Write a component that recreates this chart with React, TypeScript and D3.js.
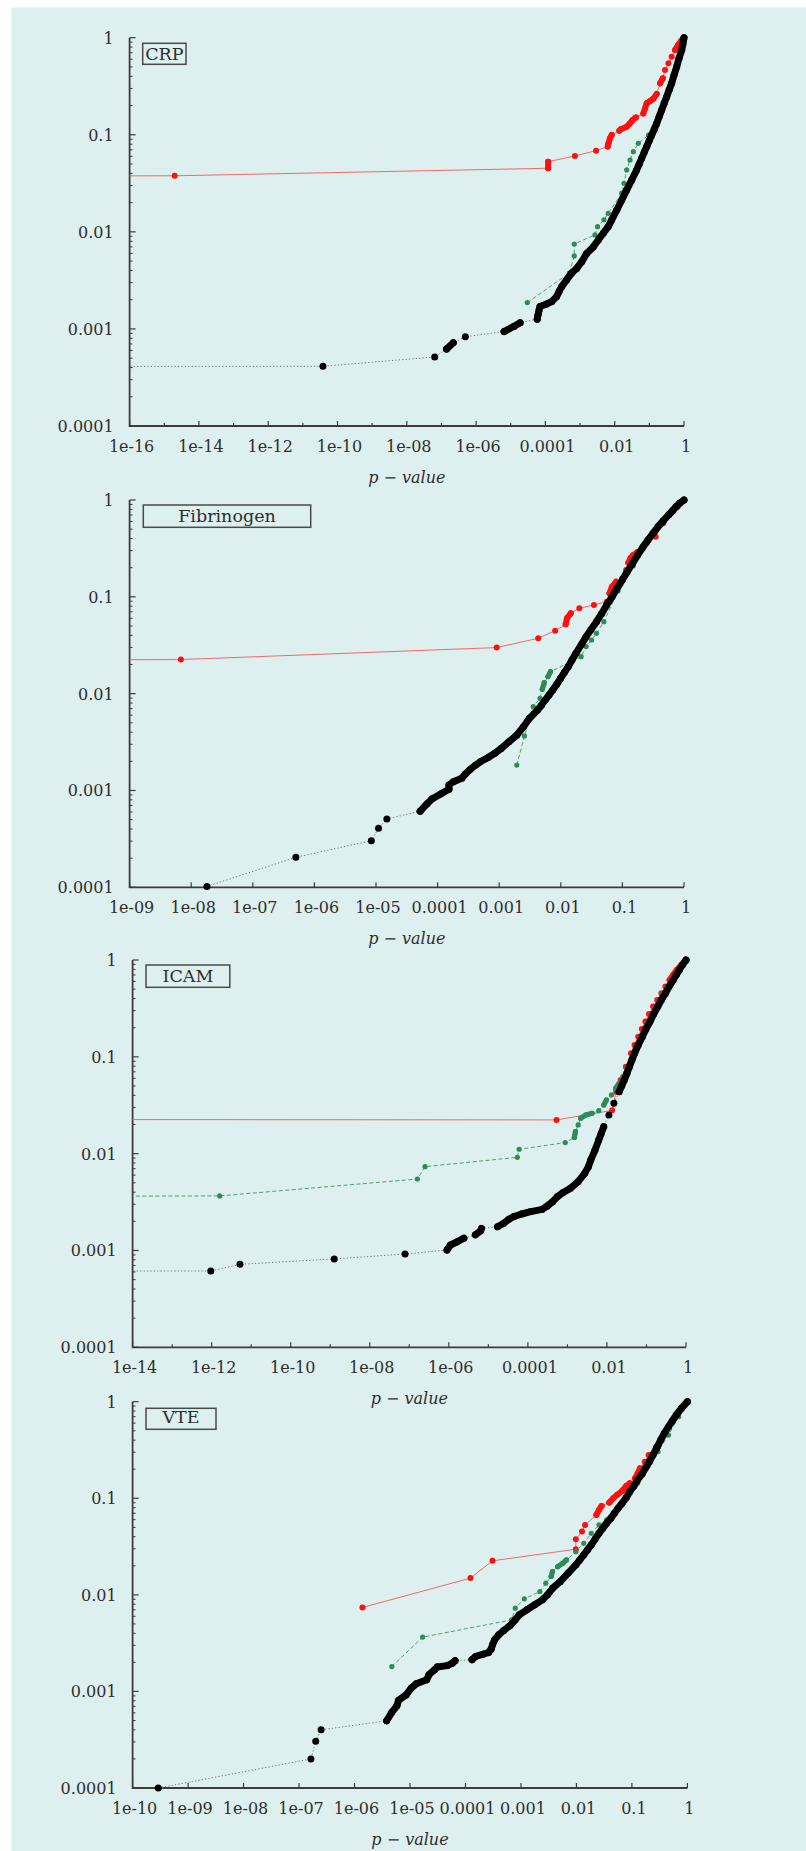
import React from "react";
import * as d3 from "d3";

type Pt = [number, number];

// ---------- CRP ----------
const crpRed: Pt[] = [
  [1e-22, 0.0375], [2e-15, 0.0378], [1.2e-4, 0.0452], [1.2e-4, 0.0528], [7.1e-4, 0.0605],
  [2.9e-3, 0.0686], [6.3e-3, 0.0755], [6.6e-3, 0.0817], [7.3e-3, 0.092], [8.2e-3, 0.0995],
  [0.0136, 0.11], [0.015, 0.114], [0.0222, 0.121], [0.0264, 0.129], [0.033, 0.142],
  [0.041, 0.151], [0.067, 0.166], [0.075, 0.187], [0.084, 0.211], [0.105, 0.223],
  [0.13, 0.235], [0.163, 0.263], [0.204, 0.339], [0.245, 0.382], [0.283, 0.465],
  [0.355, 0.545], [0.442, 0.637], [0.55, 0.747], [0.676, 0.841], [0.818, 0.925], [1, 1],
];
const crpGreen: Pt[] = [
  [3.0e-5, 1.87e-3], [4.9e-4, 3.75e-3], [6.8e-4, 5.65e-3], [6.8e-4, 7.5e-3], [2.7e-3, 9.3e-3],
  [3.2e-3, 0.0113], [4.9e-3, 0.0133], [6.5e-3, 0.0155], [0.016, 0.025], [0.0186, 0.0316],
  [0.0222, 0.0434], [0.0277, 0.055], [0.0345, 0.067], [0.048, 0.0817], [0.095, 0.0995],
  [0.163, 0.131], [0.317, 0.247], [0.616, 0.503], [1, 1],
];
const crpBlack: Pt[] = [
  [1e-20, 4.1e-4], [3.8e-11, 4.12e-4], [6.4e-8, 5.14e-4], [1.4e-7, 6.2e-4], [2.2e-7, 7.2e-4],
  [4.9e-7, 8.3e-4], [6.4e-6, 9.4e-4], [1.23e-5, 1.06e-3], [1.86e-5, 1.16e-3], [5.8e-5, 1.26e-3],
  [6.0e-5, 1.36e-3], [6.3e-5, 1.45e-3], [6.6e-5, 1.58e-3], [7.0e-5, 1.7e-3], [1.09e-4, 1.81e-3],
  [1.52e-4, 1.91e-3], [2.1e-4, 2.15e-3], [2.5e-4, 2.45e-3], [2.95e-4, 2.73e-3], [4.1e-4, 3.2e-3],
  [5.7e-4, 3.75e-3], [8.0e-4, 4.2e-3], [1.12e-3, 4.93e-3], [1.55e-3, 6.0e-3], [2.4e-3, 7.0e-3],
  [3.4e-3, 8.3e-3], [4.7e-3, 9.7e-3], [6.5e-3, 0.0113], [8.2e-3, 0.0133], [0.0115, 0.0168],
  [0.016, 0.0213], [0.0222, 0.027], [0.031, 0.0343], [0.043, 0.0434], [0.051, 0.05],
  [0.06, 0.0573], [0.071, 0.066], [0.084, 0.0755], [0.099, 0.087], [0.117, 0.0995],
  [0.138, 0.114], [0.163, 0.131], [0.193, 0.154], [0.227, 0.18], [0.268, 0.211],
  [0.317, 0.247], [0.372, 0.289], [0.44, 0.339], [0.517, 0.413], [0.616, 0.503],
  [0.72, 0.614], [0.86, 0.747], [0.93, 0.86], [1, 1],
];

// ---------- Fibrinogen ----------
const fibRed: Pt[] = [
  [1e-12, 0.0222], [6.8e-9, 0.0225], [9.1e-4, 0.0299], [4.3e-3, 0.0373], [8.1e-3, 0.0447],
  [0.012, 0.052], [0.0126, 0.06], [0.0145, 0.0676], [0.02, 0.076], [0.0345, 0.0824],
  [0.0556, 0.089], [0.0617, 0.1087], [0.0676, 0.127], [0.079, 0.1435], [0.1, 0.155],
  [0.115, 0.189], [0.125, 0.225], [0.135, 0.25], [0.15, 0.27], [0.175, 0.29], [0.25, 0.36],
  [0.347, 0.418], [0.46, 0.574], [0.617, 0.728], [0.79, 0.853], [1, 1],
];
const fibGreen: Pt[] = [
  [1.93e-3, 1.83e-3], [2.57e-3, 3.66e-3], [3.57e-3, 7.34e-3], [4.6e-3, 8.95e-3], [5.0e-3, 0.0111],
  [5.4e-3, 0.013], [6.2e-3, 0.015], [6.8e-3, 0.0169], [0.0214, 0.0241], [0.0258, 0.0306],
  [0.0316, 0.0358], [0.038, 0.042], [0.05, 0.0554], [0.085, 0.115], [0.15, 0.21],
  [0.3, 0.42], [0.55, 0.68], [1, 1],
];
const fibBlack: Pt[] = [
  [1.8e-8, 1.02e-4], [5e-7, 2.04e-4], [8.4e-6, 3.03e-4], [1.1e-5, 4.07e-4], [1.5e-5, 5.08e-4],
  [5.2e-5, 6.1e-4], [6.7e-5, 7.26e-4], [8.1e-5, 8.17e-4], [1.12e-4, 9.2e-4], [1.53e-4, 1.03e-3],
  [1.53e-4, 1.14e-3], [1.8e-4, 1.23e-3], [2.47e-4, 1.34e-3], [2.8e-4, 1.47e-3], [3.4e-4, 1.66e-3],
  [4.15e-4, 1.83e-3], [5e-4, 1.99e-3], [6.7e-4, 2.2e-3], [8.5e-4, 2.42e-3], [1.08e-3, 2.72e-3],
  [1.44e-3, 3.19e-3], [1.94e-3, 3.74e-3], [2.48e-3, 4.56e-3], [3.1e-3, 5.56e-3], [4.2e-3, 6.78e-3],
  [4.85e-3, 7.6e-3], [5.6e-3, 8.6e-3], [6.45e-3, 9.7e-3], [7.4e-3, 0.0109], [8.6e-3, 0.0125],
  [9.9e-3, 0.0144], [0.0114, 0.0165], [0.0132, 0.019], [0.0152, 0.0223], [0.0176, 0.0261],
  [0.0215, 0.032], [0.0258, 0.0388], [0.031, 0.046], [0.038, 0.0554], [0.046, 0.067],
  [0.0557, 0.0824], [0.068, 0.1], [0.082, 0.1225], [0.1, 0.15], [0.12, 0.182], [0.145, 0.22],
  [0.177, 0.27], [0.214, 0.324], [0.26, 0.386], [0.314, 0.453], [0.38, 0.531], [0.462, 0.612],
  [0.56, 0.7], [0.653, 0.776], [0.746, 0.853], [0.85, 0.925], [1, 1],
];

// ---------- ICAM ----------
const icamRed: Pt[] = [
  [1e-20, 0.0226], [5.3e-4, 0.0223], [0.0135, 0.028], [0.0171, 0.0437], [0.0223, 0.0577],
  [0.0301, 0.079], [0.0406, 0.1087], [0.05, 0.1325], [0.0618, 0.161], [0.0762, 0.194],
  [0.094, 0.231], [0.116, 0.277], [0.147, 0.33], [0.187, 0.386], [0.238, 0.453],
  [0.302, 0.531], [0.384, 0.621], [0.473, 0.7], [0.583, 0.789], [0.764, 0.888], [1, 1],
];
const icamGreen: Pt[] = [
  [1e-20, 3.6e-3], [1.6e-12, 3.66e-3], [1.6e-7, 5.47e-3], [2.5e-7, 7.34e-3], [5.4e-5, 9.16e-3],
  [6.0e-5, 0.0111], [8.8e-4, 0.013], [1.5e-3, 0.0147], [1.6e-3, 0.0169], [1.87e-3, 0.0198],
  [2.16e-3, 0.0232], [2.9e-3, 0.025], [4.2e-3, 0.0261], [6.2e-3, 0.0278], [8.3e-3, 0.0318],
  [9.7e-3, 0.0358], [0.013, 0.0404], [0.0166, 0.0473], [0.0204, 0.0535], [0.0251, 0.0624],
  [0.032, 0.0762], [0.0407, 0.0927], [0.058, 0.127], [0.106, 0.213], [0.26, 0.453],
  [0.637, 0.789], [1, 1],
];
const icamBlack: Pt[] = [
  [1e-20, 6.1e-4], [9.5e-13, 6.14e-4], [5.2e-12, 7.2e-4], [1.26e-9, 8.17e-4], [7.8e-8, 9.2e-4],
  [9.0e-7, 1.01e-3], [1.1e-6, 1.14e-3], [1.64e-6, 1.23e-3], [2.4e-6, 1.34e-3], [4.7e-6, 1.45e-3],
  [6.3e-6, 1.59e-3], [6.7e-6, 1.69e-3], [1.7e-5, 1.76e-3], [2.4e-5, 1.9e-3], [3.3e-5, 2.1e-3],
  [4.4e-5, 2.24e-3], [6.9e-5, 2.38e-3], [1.19e-4, 2.52e-3], [2.3e-4, 2.66e-3], [3.1e-4, 2.88e-3],
  [4.2e-4, 3.19e-3], [5.6e-4, 3.6e-3], [7.6e-4, 3.95e-3], [1.19e-3, 4.38e-3], [1.86e-3, 5.14e-3],
  [2.75e-3, 6.26e-3], [3.4e-3, 7.34e-3], [3.9e-3, 8.6e-3], [5.0e-3, 0.0109], [6.2e-3, 0.0138],
  [7.2e-3, 0.0162], [8.3e-3, 0.019], [0.0112, 0.025], [0.015, 0.0331], [0.0204, 0.0437],
  [0.0237, 0.0503], [0.0275, 0.0577], [0.032, 0.0675], [0.037, 0.079], [0.043, 0.093],
  [0.05, 0.1087], [0.0618, 0.1325], [0.0785, 0.161], [0.0968, 0.194], [0.123, 0.231],
  [0.152, 0.277], [0.193, 0.33], [0.238, 0.386], [0.302, 0.453], [0.372, 0.531],
  [0.473, 0.621], [0.566, 0.7], [0.676, 0.789], [0.81, 0.888], [1, 1],
];

// ---------- VTE ----------
const vteRed: Pt[] = [
  [1.39e-6, 7.4e-3], [1.23e-4, 0.0149], [3.07e-4, 0.0225], [9.75e-3, 0.0297], [9.75e-3, 0.0377],
  [0.0126, 0.0452], [0.0143, 0.053], [0.0229, 0.0673], [0.0255, 0.0757], [0.0284, 0.0833],
  [0.039, 0.0902], [0.046, 0.1], [0.0537, 0.108], [0.0665, 0.119], [0.0789, 0.134],
  [0.0912, 0.143], [0.1135, 0.161], [0.126, 0.179], [0.14, 0.204], [0.17, 0.239],
  [0.2, 0.281], [0.27, 0.337], [0.33, 0.401], [0.39, 0.47], [0.5, 0.597], [0.62, 0.72],
  [0.78, 0.85], [1, 1],
];
const vteGreen: Pt[] = [
  [4.7e-6, 1.81e-3], [1.69e-5, 3.65e-3], [6.8e-4, 5.51e-3], [7.9e-4, 7.28e-3], [1.15e-3, 9.1e-3],
  [2.19e-3, 0.0108], [2.8e-3, 0.0132], [3.5e-3, 0.0155], [3.7e-3, 0.0174], [4.6e-3, 0.0196],
  [5.7e-3, 0.0213], [6.6e-3, 0.023], [9.75e-3, 0.028], [0.0135, 0.0342], [0.0185, 0.0434],
  [0.0255, 0.053], [0.035, 0.0597], [0.0537, 0.0757], [0.0822, 0.104], [0.126, 0.143],
  [0.194, 0.213], [0.295, 0.304], [0.457, 0.452], [0.697, 0.7], [1, 1],
];
const vteBlack: Pt[] = [
  [2.9e-10, 1.0e-4], [1.64e-7, 2.0e-4], [2.0e-7, 3.04e-4], [2.5e-7, 4.0e-4], [3.8e-6, 4.97e-4],
  [4.7e-6, 6.07e-4], [5.8e-6, 7.1e-4], [6.2e-6, 8.07e-4], [8.5e-6, 9.2e-4], [1.05e-5, 1.08e-3],
  [1.3e-5, 1.2e-3], [2.0e-5, 1.32e-3], [2.2e-5, 1.49e-3], [2.75e-5, 1.67e-3], [3.1e-5, 1.79e-3],
  [4.7e-5, 1.85e-3], [5.8e-5, 1.96e-3], [6.5e-5, 2.08e-3], [1.31e-4, 2.13e-3], [1.52e-4, 2.3e-3],
  [2.09e-4, 2.43e-3], [2.6e-4, 2.53e-3], [2.9e-4, 2.74e-3], [3.07e-4, 3.04e-3], [3.35e-4, 3.42e-3],
  [3.98e-4, 3.86e-3], [4.9e-4, 4.28e-3], [6.3e-4, 4.78e-3], [7.9e-4, 5.51e-3], [9.3e-4, 6.21e-3],
  [1.28e-3, 7.0e-3], [1.77e-3, 7.9e-3], [2.44e-3, 8.88e-3], [3.0e-3, 0.01], [3.7e-3, 0.0117],
  [5.1e-3, 0.0137], [7.1e-3, 0.0168], [9.75e-3, 0.0204], [0.0115, 0.023], [0.0135, 0.0259],
  [0.0158, 0.0292], [0.0185, 0.0329], [0.0217, 0.0378], [0.0255, 0.0434], [0.0299, 0.049],
  [0.035, 0.0551], [0.0417, 0.0621], [0.0483, 0.07], [0.0563, 0.0788], [0.0665, 0.0888],
  [0.0794, 0.102], [0.0912, 0.117], [0.1087, 0.134], [0.126, 0.155], [0.153, 0.179],
  [0.174, 0.204], [0.206, 0.239], [0.24, 0.281], [0.284, 0.337], [0.33, 0.401], [0.383, 0.47],
  [0.457, 0.551], [0.537, 0.636], [0.63, 0.728], [0.78, 0.853], [1, 1],
];

const panelNames = ["CRP", "Fibrinogen", "ICAM", "VTE"];
const xMinExps = [-16, -9, -14, -10];
const xLabelSteps = [2, 1, 2, 1];
const yTickExps = [0, -1, -2, -3, -4];
const axisTitle = "p − value";

const layout = [
  { top: 37.7, bottom: 426, left: 129.6, right: 684, box: [142.7, 43.3, 43.3, 21], tb: 60 },
  { top: 500, bottom: 887.3, left: 129.6, right: 684, box: [143.3, 505, 167.4, 22.3], tb: 521.7 },
  { top: 960, bottom: 1347.3, left: 132.6, right: 686, box: [146, 965, 83.8, 22.3], tb: 981.7 },
  { top: 1401.7, bottom: 1788, left: 132.6, right: 687.4, box: [146, 1408.3, 70, 21], tb: 1423.3 },
];
const seriesData: Pt[][][] = [
  [crpRed, crpGreen, crpBlack],
  [fibRed, fibGreen, fibBlack],
  [icamRed, icamGreen, icamBlack],
  [vteRed, vteGreen, vteBlack],
];
const styles = [
  { line: "#f06a6a", dash: "none", dot: "#ff1010", r: 3.0, thr: 7 },
  { line: "#4f9e72", dash: "4,2.5", dot: "#2e8b57", r: 2.6, thr: 7 },
  { line: "#707070", dash: "1.2,2.2", dot: "#000000", r: 3.5, thr: 12 },
];

const FONT = "'DejaVu Serif', serif";
const TXT = "#2e2e2e";
const AX = "#3c3c3c";

function fmtX(e: number): string {
  if (e === 0) return "1";
  if (e >= -4) return Math.pow(10, e).toFixed(-e);
  return "1e-" + String(-e).padStart(2, "0");
}
function fmtY(e: number): string {
  return e === 0 ? "1" : Math.pow(10, e).toFixed(-e);
}

function Panel({ i }: { i: number }) {
  const L = layout[i];
  const x = d3.scaleLog().domain([Math.pow(10, xMinExps[i]), 1]).range([L.left, L.right]);
  const y = d3.scaleLog().domain([1e-4, 1]).range([L.bottom, L.top]);
  const line = d3.line<Pt>().x((d) => x(d[0])).y((d) => y(d[1]));
  const clipId = "clip" + i;

  const xExps = d3.range(xMinExps[i], 1);
  const yMinor: number[] = [];
  for (let e = -4; e < 0; e++) for (let k = 2; k <= 9; k++) yMinor.push(k * Math.pow(10, e));

  const band = (data: Pt[], thr: number) => {
    let s = "";
    for (let k = 1; k < data.length; k++) {
      const x0 = x(data[k - 1][0]), y0 = y(data[k - 1][1]);
      const x1 = x(data[k][0]), y1 = y(data[k][1]);
      if (Math.hypot(x1 - x0, y1 - y0) < thr) s += `M${x0},${y0}L${x1},${y1}`;
    }
    return s;
  };

  const [bx, by, bw, bh] = L.box;
  return (
    <g>
      <defs>
        <clipPath id={clipId}>
          <rect x={L.left} y={L.top - 10} width={L.right - L.left + 8} height={L.bottom - L.top + 20} />
        </clipPath>
      </defs>
      <path
        d={`M${L.left},${L.top}V${L.bottom}H${L.right}`}
        fill="none"
        stroke={AX}
        strokeWidth={1.8}
      />
      {xExps.map((e) => {
        const xx = x(Math.pow(10, e));
        const labeled = (e - xMinExps[i]) % xLabelSteps[i] === 0;
        return (
          <g key={"xt" + e}>
            <line x1={xx} x2={xx} y1={L.bottom} y2={L.bottom - (labeled ? 5 : 3)} stroke={AX} strokeWidth={1.2} />
            {labeled && (
              <text x={xx + 2} y={L.bottom + 26} textAnchor="middle" fontFamily={FONT} fontSize={16} fill={TXT}>
                {fmtX(e)}
              </text>
            )}
          </g>
        );
      })}
      {yTickExps.map((e) => {
        const yy = y(Math.pow(10, e));
        return (
          <g key={"yt" + e}>
            <line x1={L.left} x2={L.left + 6} y1={yy} y2={yy} stroke={AX} strokeWidth={1.2} />
            <text x={L.left - 16} y={yy + 6} textAnchor="end" fontFamily={FONT} fontSize={16} fill={TXT}>
              {fmtY(e)}
            </text>
          </g>
        );
      })}
      {yMinor.map((v) => (
        <line key={"ym" + v} x1={L.left} x2={L.left + 3} y1={y(v)} y2={y(v)} stroke={AX} strokeWidth={1} />
      ))}
      <text
        x={(L.left + L.right) / 2}
        y={L.bottom + 57}
        textAnchor="middle"
        fontFamily={FONT}
        fontStyle="italic"
        fontSize={16}
        fill={TXT}
      >
        {axisTitle}
      </text>
      <rect x={bx} y={by} width={bw} height={bh} fill="none" stroke="#4a4a4a" strokeWidth={1.5} />
      <text x={bx + bw / 2} y={L.tb} textAnchor="middle" fontFamily={FONT} fontSize={17.5} fill={TXT}>
        {panelNames[i]}
      </text>
      <g clipPath={`url(#${clipId})`}>
        {seriesData[i].map((data, s) => {
          const st = styles[s];
          return (
            <g key={"s" + s}>
              <path d={line(data) || ""} fill="none" stroke={st.line} strokeWidth={1} strokeDasharray={st.dash} />
              <path d={band(data, st.thr)} fill="none" stroke={st.dot} strokeWidth={st.r * 2} strokeLinecap="round" />
              {data.map((d, k) => (
                <circle key={k} cx={x(d[0])} cy={y(d[1])} r={st.r} fill={st.dot} />
              ))}
            </g>
          );
        })}
      </g>
    </g>
  );
}

export default function App() {
  return (
    <svg
      width={806}
      height={1851}
      style={{ position: "absolute", left: 0, top: 0, display: "block" }}
    >
      <rect x={11.5} y={7.5} width={806 - 11.5} height={1851 - 7.5} fill="#ddefef" />
      {layout.map((_, i) => (
        <Panel key={i} i={i} />
      ))}
    </svg>
  );
}
